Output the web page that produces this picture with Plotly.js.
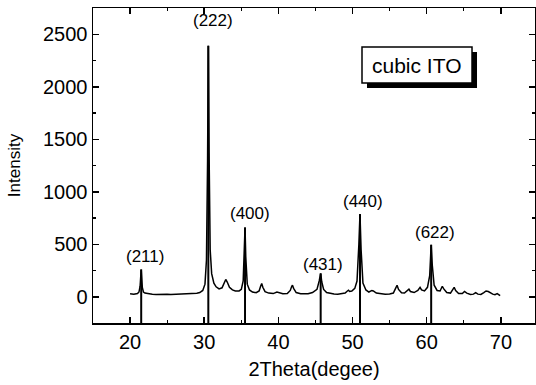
<!DOCTYPE html>
<html>
<head>
<meta charset="utf-8">
<script src="https://cdn.plot.ly/plotly-3.0.1.min.js"></script>
<style>html,body{margin:0;padding:0;background:#fff;}#chart{width:536px;height:385px;}</style>
</head>
<body>
<div id="chart"></div>
<script>
// XRD pattern (2Theta, intensity)
var twoTheta = [20.0,20.5,21.0,21.2,21.35,21.5,21.65,21.8,22.0,22.5,23.0,23.5,24.0,24.5,25.0,25.5,26.0,26.5,27.0,27.5,28.0,28.5,29.0,29.4,29.8,30.1,30.3,30.45,30.55,30.65,30.8,31.0,31.3,31.6,32.0,32.4,32.7,32.9,33.1,33.4,33.8,34.2,34.7,35.0,35.25,35.4,35.5,35.6,35.8,36.1,36.5,37.0,37.4,37.6,37.75,37.9,38.2,38.7,39.3,39.8,40.1,40.6,41.2,41.6,41.8,41.9,42.05,42.4,43.0,43.5,44.0,44.6,45.2,45.5,45.7,45.85,46.1,46.5,47.0,47.5,48.0,48.5,49.0,49.3,49.45,49.6,49.9,50.3,50.6,50.85,51.0,51.15,51.4,51.8,52.2,52.6,52.8,53.2,53.8,54.4,55.0,55.5,55.8,56.0,56.2,56.6,57.0,57.4,57.6,57.8,58.3,58.8,59.1,59.3,59.7,60.1,60.4,60.6,60.75,61.0,61.4,61.8,62.1,62.3,62.7,63.2,63.5,63.7,63.9,64.3,64.8,65.1,65.4,65.9,66.3,66.6,66.9,67.3,67.7,68.0,68.3,68.6,68.9,69.2,69.5,69.7,69.9];
var intensity = [28,25,30,45,100,260,90,45,35,28,25,22,24,22,23,22,24,25,24,26,27,30,33,40,60,120,350,1300,2390,1400,450,220,130,95,75,85,130,165,140,90,65,55,55,70,150,400,660,380,120,65,45,38,55,100,127,90,48,35,30,45,40,28,30,60,100,110,80,40,28,25,28,40,70,150,222,140,70,40,30,26,25,28,35,55,62,50,55,80,150,500,787,450,130,65,45,60,55,35,28,25,26,35,80,110,70,38,35,60,72,50,40,60,90,65,55,90,200,495,300,110,60,55,100,75,40,35,70,90,60,30,30,50,35,22,25,40,25,22,40,55,50,35,25,20,30,20,10];

// indexed peaks (reference sticks)
var peakPos = [21.5, 30.55, 35.5, 45.7, 51.0, 60.6];
var peakHeight = [260, 2390, 660, 222, 787, 495];
var peakLabels = ['(211)', '(222)', '(400)', '(431)', '(440)', '(622)'];
var labelX = [22.0, 31.2, 36.2, 46.0, 51.4, 61.1];
var labelY = [381, 2628, 790, 305, 904, 609];

var axisBottom = -250;
var stickX = [], stickY = [];
for (var i = 0; i < peakPos.length; i++) {
  stickX.push(peakPos[i], peakPos[i], null);
  stickY.push(axisBottom, peakHeight[i], null);
}

var font = 'Liberation Sans, Arial, sans-serif';

var traces = [
  {x: twoTheta, y: intensity, type: 'scatter', mode: 'lines',
   line: {color: '#000', width: 1.5}, hoverinfo: 'skip'},
  {x: stickX, y: stickY, type: 'scatter', mode: 'lines',
   line: {color: '#000', width: 2}, hoverinfo: 'skip'}
];

var annotations = peakLabels.map(function (t, i) {
  return {x: labelX[i], y: labelY[i], text: t, showarrow: false,
          xanchor: 'center', yanchor: 'middle',
          font: {family: font, size: 17, color: '#000'}};
});
annotations.push({
  x: 0.733, y: 0.819, xref: 'paper', yref: 'paper', text: 'cubic ITO',
  showarrow: false, xanchor: 'center', yanchor: 'middle',
  font: {family: font, size: 21, color: '#000'}
});

var layout = {
  width: 536, height: 385,
  margin: {l: 93, r: 1, t: 8, b: 62},
  paper_bgcolor: '#fff', plot_bgcolor: '#fff',
  showlegend: false,
  font: {family: font, color: '#000'},
  xaxis: {
    range: [15, 74.6], tick0: 0, dtick: 10,
    ticks: 'inside', ticklen: 6, tickwidth: 1.5, tickcolor: '#000',
    minor: {dtick: 5, ticks: 'inside', ticklen: 3, tickwidth: 1.2, tickcolor: '#000'},
    showline: true, linewidth: 1.5, linecolor: '#000', mirror: 'ticks',
    showgrid: false, zeroline: false,
    tickfont: {family: font, size: 20, color: '#000'},
    title: {text: '2Theta(degee)', font: {family: font, size: 20, color: '#000'}, standoff: 10}
  },
  yaxis: {
    range: [-250, 2750], tick0: 0, dtick: 500,
    ticks: 'inside', ticklen: 6, tickwidth: 1.5, tickcolor: '#000',
    minor: {dtick: 250, ticks: 'inside', ticklen: 3, tickwidth: 1.2, tickcolor: '#000'},
    showline: true, linewidth: 1.5, linecolor: '#000', mirror: 'ticks',
    showgrid: false, zeroline: false,
    tickfont: {family: font, size: 20, color: '#000'},
    title: {text: 'Intensity', font: {family: font, size: 17, color: '#000'}, standoff: 18}
  },
  annotations: annotations,
  shapes: [
    {type: 'rect', xref: 'paper', yref: 'paper', layer: 'above',
     x0: 0.6199, x1: 0.8688, y0: 0.746, y1: 0.860,
     fillcolor: '#000', line: {width: 0}},
    {type: 'rect', xref: 'paper', yref: 'paper', layer: 'above',
     x0: 0.6086, x1: 0.8575, y0: 0.762, y1: 0.876,
     fillcolor: '#fff', line: {color: '#000', width: 1.5}}
  ]
};

Plotly.newPlot('chart', traces, layout, {displayModeBar: false, staticPlot: true});
</script>
</body>
</html>
